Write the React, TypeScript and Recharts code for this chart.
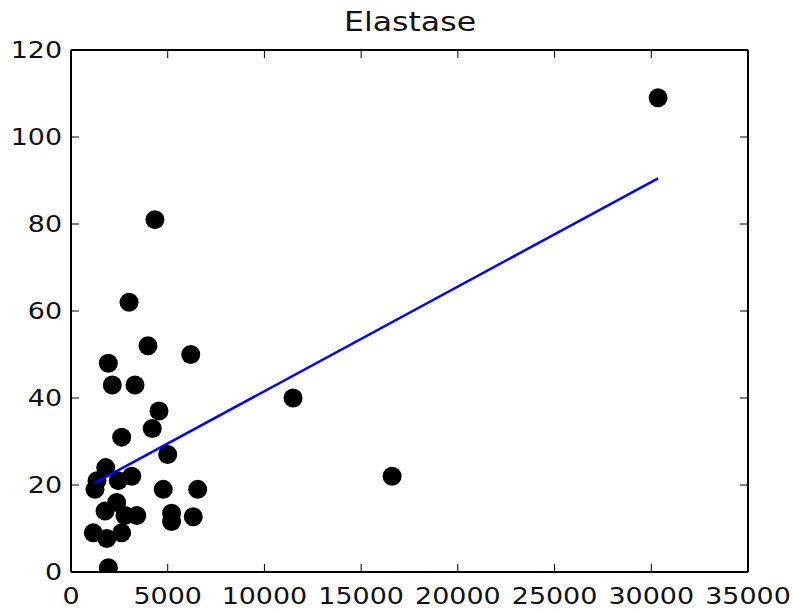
import React from 'react';
import { ScatterChart, Scatter, XAxis, YAxis } from 'recharts';

const xValues = [
  30350, 16600, 11480, 4340, 3000, 3980, 6190, 1930, 2135, 3310,
  4550, 4200, 2620, 5000, 1795, 3140, 2445, 1345, 1240, 4770,
  6550, 2360, 1760, 3400, 2790, 5200, 5200, 6320, 1150, 1850,
  2620, 1930,
];
const yValues = [
  109, 22, 40, 81, 62, 52, 50, 48, 43, 43,
  37, 33, 31, 27, 24, 22, 21, 21, 19, 19,
  19, 16, 14, 13, 13, 13.5, 11.6, 12.7, 9, 7.7,
  9, 1,
];

// fit line endpoints as drawn
const fitX = [1240, 30350];
const fitY = [20.5, 90.5];

const xTicks = [0, 5000, 10000, 15000, 20000, 25000, 30000, 35000];
const yTicks = [0, 20, 40, 60, 80, 100, 120];

const points = xValues.map((x, i) => ({ x, y: yValues[i] }));
const fitLine = fitX.map((x, i) => ({ x, y: fitY[i] }));

const FONT = '"DejaVu Sans", sans-serif';
const STRETCH = 1.17;

const BottomTick = (props: any) => {
  const { x, y, payload } = props;
  return (
    <g>
      <line x1={x} y1={y} x2={x} y2={y - 8} stroke="#000" strokeWidth={1} />
      <g transform={`translate(${x},${y + 32}) scale(${STRETCH},1)`}>
        <text x={0} y={0} textAnchor="middle" fontSize={23} fontFamily={FONT} fill="#111">
          {payload.value}
        </text>
      </g>
    </g>
  );
};

const LeftTick = (props: any) => {
  const { x, y, payload } = props;
  return (
    <g>
      <line x1={x} y1={y} x2={x + 8} y2={y} stroke="#000" strokeWidth={1} />
      <g transform={`translate(${x - 9},${y + 8}) scale(${STRETCH},1)`}>
        <text x={0} y={0} textAnchor="end" fontSize={23} fontFamily={FONT} fill="#111">
          {payload.value}
        </text>
      </g>
    </g>
  );
};

const TopTick = (props: any) => {
  const { x, y } = props;
  return <line x1={x} y1={y} x2={x} y2={y + 8} stroke="#000" strokeWidth={1} />;
};

const RightTick = (props: any) => {
  const { x, y } = props;
  return <line x1={x} y1={y} x2={x - 8} y2={y} stroke="#000" strokeWidth={1} />;
};

const Dot = (props: any) => <circle cx={props.cx} cy={props.cy} r={9.5} fill="#000" />;
const NoDot = () => <g />;

export default function App() {
  return (
    <div style={{ position: 'absolute', left: 0, top: 0, width: 793, height: 613, background: '#fff' }}>
      <svg width={793} height={40} style={{ position: 'absolute', left: 0, top: 0 }}>
        <g transform={`translate(410,31) scale(${STRETCH},1)`}>
          <text x={0} y={0} textAnchor="middle" fontSize={27} fontFamily={FONT} fill="#111">
            Elastase
          </text>
        </g>
      </svg>
      <div style={{ position: 'absolute', left: 0, top: 0 }}>
        <ScatterChart width={793} height={613} margin={{ top: 49, right: 44, bottom: 0, left: 0 }}>
          <XAxis
            type="number"
            dataKey="x"
            domain={[0, 35000]}
            ticks={xTicks}
            height={41}
            tickSize={0}
            tickMargin={0}
            tick={BottomTick}
            axisLine={{ stroke: '#000', strokeWidth: 2 }}
            allowDataOverflow
          />
          <XAxis
            xAxisId="top"
            orientation="top"
            type="number"
            dataKey="x"
            domain={[0, 35000]}
            ticks={xTicks}
            height={1}
            tickSize={0}
            tickMargin={0}
            tick={TopTick}
            axisLine={{ stroke: '#000', strokeWidth: 2 }}
            allowDataOverflow
          />
          <YAxis
            type="number"
            dataKey="y"
            domain={[0, 120]}
            ticks={yTicks}
            width={71}
            tickSize={0}
            tickMargin={0}
            tick={LeftTick}
            axisLine={{ stroke: '#000', strokeWidth: 2 }}
            allowDataOverflow
          />
          <YAxis
            yAxisId="right"
            orientation="right"
            type="number"
            dataKey="y"
            domain={[0, 120]}
            ticks={yTicks}
            width={1}
            tickSize={0}
            tickMargin={0}
            tick={RightTick}
            axisLine={{ stroke: '#000', strokeWidth: 2 }}
            allowDataOverflow
          />
          <Scatter data={points} shape={Dot} isAnimationActive={false} />
          <Scatter
            data={fitLine}
            xAxisId="top"
            yAxisId="right"
            shape={NoDot}
            line={{ stroke: '#0000ff', strokeWidth: 2.5 }}
            isAnimationActive={false}
          />
        </ScatterChart>
      </div>
    </div>
  );
}
